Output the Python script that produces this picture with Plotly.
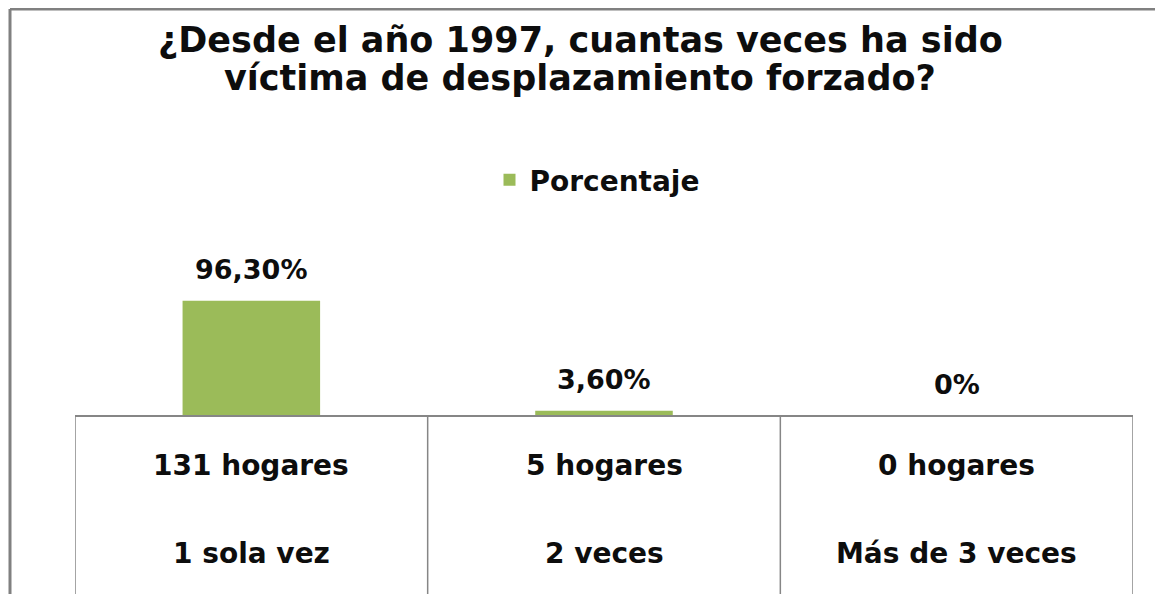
import plotly.graph_objects as go

categories = ["1 sola vez", "2 veces", "Más de 3 veces"]
hogares = ["131 hogares", "5 hogares", "0 hogares"]
porcentaje = [96.3, 3.6, 0.0]
value_labels = ["96,30%", "3,60%", "0%"]
title_lines = ["¿Desde el año 1997, cuantas veces ha sido",
               "víctima de desplazamiento forzado?"]

OFF = 8  # page body margin of the browser
W, H = 1163 - OFF, 594 - OFF
ml, mt = 75 - OFF, 230 - OFF
mr = W - (1133 - OFF)
mb = H - (415 - OFF)
pw, ph = W - ml - mr, H - mt - mb

FONT = "DejaVu Sans"
GREEN = "#9BBB59"
GRAY = "#868686"
TXT = "#0d0d0d"


def px(sx):
    return (sx - OFF - ml) / pw


def py(sy):
    return (mt + ph - (sy - OFF)) / ph


fig = go.Figure()
fig.add_trace(go.Bar(
    x=list(range(len(categories))), y=porcentaje, name="Porcentaje",
    marker=dict(color=GREEN, line=dict(width=0)), width=0.39,
))

# data labels
for i, (v, lab) in enumerate(zip(porcentaje, value_labels)):
    fig.add_annotation(x=i, y=v, xref="x", yref="y", text=lab, showarrow=False,
                       yanchor="middle", yshift=31,
                       font=dict(family=FONT, size=27, color=TXT, weight="bold"))

# category table texts
for i, (h, c) in enumerate(zip(hogares, categories)):
    fig.add_annotation(x=i, y=0, xref="x", yref="paper", text=h, showarrow=False,
                       yanchor="middle", yshift=-50,
                       font=dict(family=FONT, size=28, color=TXT, weight="bold"))
    fig.add_annotation(x=i, y=0, xref="x", yref="paper", text=c, showarrow=False,
                       yanchor="middle", yshift=-138,
                       font=dict(family=FONT, size=28, color=TXT, weight="bold"))

# title, one annotation per line
for ln, sy in zip(title_lines, [40, 78]):
    fig.add_annotation(x=px(580), y=py(sy), xref="paper", yref="paper", text=ln,
                       showarrow=False, xanchor="center", yanchor="middle",
                       font=dict(family=FONT, size=35, color=TXT, weight="bold"))

shapes = []
# table vertical lines
for b in [-0.5, 0.5, 1.5, 2.5]:
    shapes.append(dict(type="line", xref="x", yref="paper", x0=b, x1=b,
                       y0=0, y1=py(594), line=dict(color=GRAY, width=1.5)))
# outer frame (top and left)
shapes.append(dict(type="line", xref="paper", yref="paper", x0=px(10), x1=px(1160),
                   y0=py(9), y1=py(9), line=dict(color="#808080", width=3)))
shapes.append(dict(type="line", xref="paper", yref="paper", x0=px(10), x1=px(10),
                   y0=py(9), y1=py(594), line=dict(color="#808080", width=3)))

fig.update_layout(
    width=W, height=H,
    margin=dict(l=ml, r=mr, t=mt, b=mb, autoexpand=False),
    paper_bgcolor="white", plot_bgcolor="white",
    showlegend=True,
    legend=dict(orientation="h", x=px(597), xanchor="center", y=py(180), yanchor="middle",
                font=dict(family=FONT, size=28, color=TXT, weight="bold"),
                bgcolor="rgba(0,0,0,0)"),
    xaxis=dict(range=[-0.5, 2.5], showticklabels=False, ticks="", showgrid=False,
               showline=True, linecolor=GRAY, linewidth=1.5, zeroline=False),
    yaxis=dict(range=[0, 156], visible=False, showgrid=False, zeroline=False),
    shapes=shapes,
)

fig.write_html("out.html")
